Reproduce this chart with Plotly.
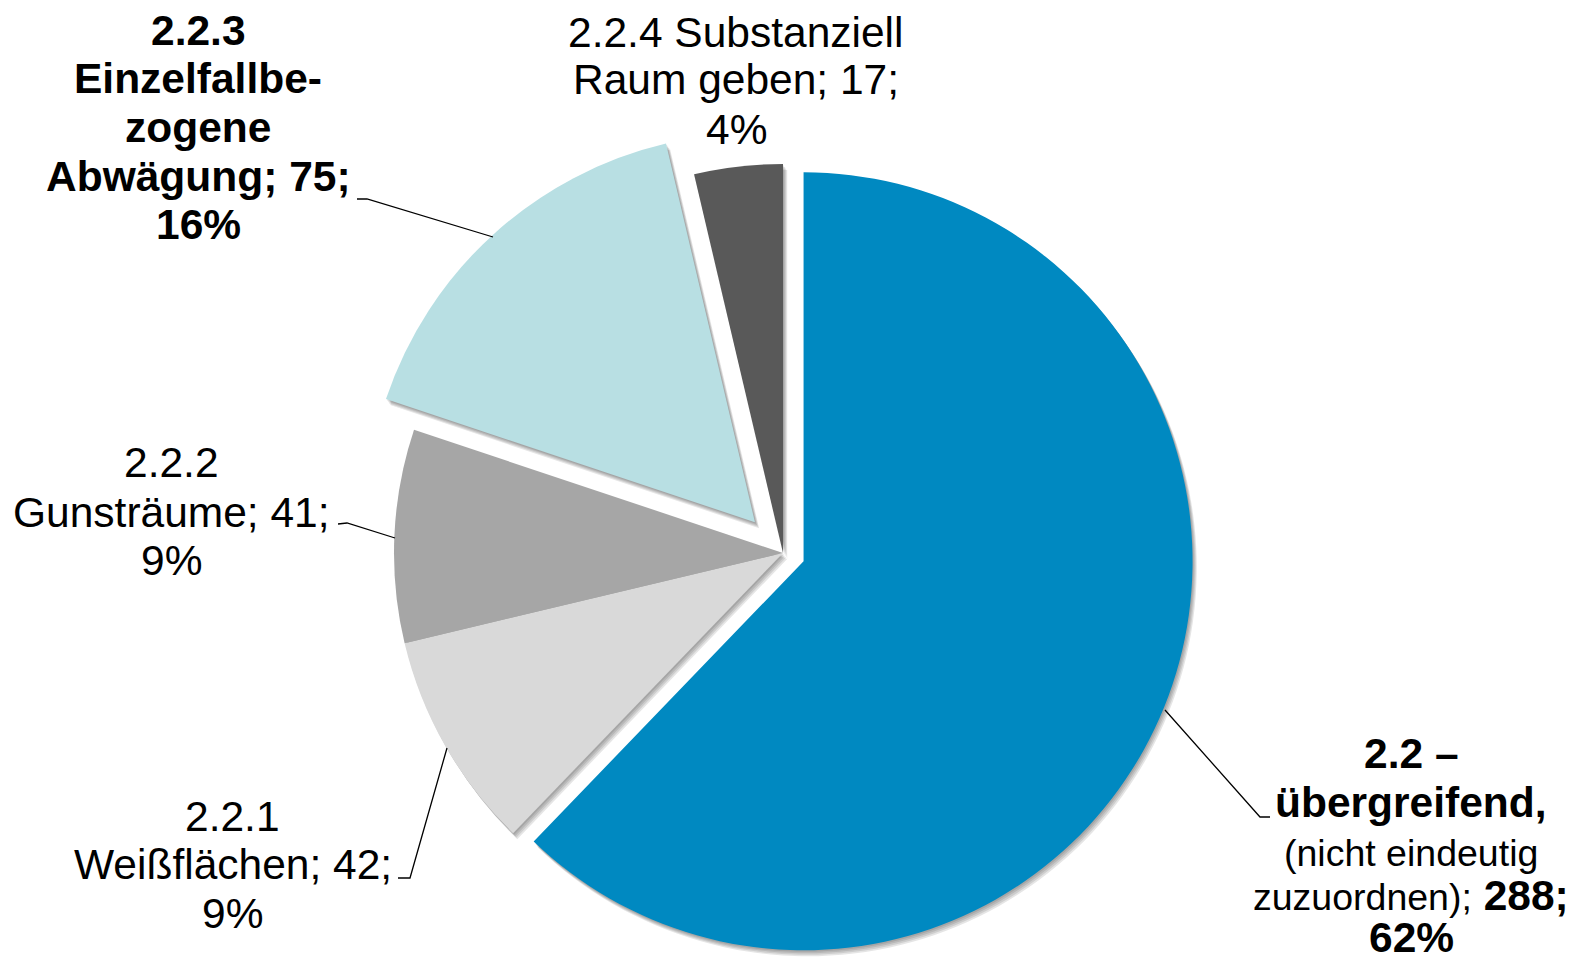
import math
import plotly.graph_objects as go

# data
categories = [
    "2.2 – übergreifend (nicht eindeutig zuzuordnen)",
    "2.2.1 Weißflächen",
    "2.2.2 Gunsträume",
    "2.2.3 Einzelfallbezogene Abwägung",
    "2.2.4 Substanziell Raum geben",
]
values = [288, 42, 41, 75, 17]
pulls = [0.057, 0, 0, 0.107, 0]
colors = ["#0089C1", "#D9D9D9", "#A6A6A6", "#B8DFE3", "#595959"]

# label text, one entry per line ({v} = value, {p} = percent)
label_lines = [
    ["<b>2.2 –</b>", "<b>übergreifend,</b>",
     "<span style='font-size:37.5px'>(nicht eindeutig</span>",
     "<span style='font-size:37.5px'>zuzuordnen);</span> <b>{v};</b>",
     "<b>{p}%</b>"],
    ["2.2.1", "Weißflächen; {v};", "{p}%"],
    ["2.2.2", "Gunsträume; {v};", "{p}%"],
    ["<b>2.2.3</b>", "<b>Einzelfallbe-</b>", "<b>zogene</b>",
     "<b>Abwägung; {v};</b>", "<b>{p}%</b>"],
    ["2.2.4 Substanziell", "Raum geben; {v};", "{p}%"],
]

W, H = 1571, 961
CX, CY, R = 783, 553, 389  # pie centre / radius in px

# label placement (px): x centre and line centres
label_pos = [
    (1411, [753, 802, 853, 895, 937]),
    (233, [816, 864, 913]),
    (171, [463, 512, 560]),
    (198, [31, 79, 127, 176, 224]),
    (736, [32, 80, 129]),
]
leaders = [
    [(1165, 710), (1260, 817), (1270, 817)],
    [(398, 878), (410, 878), (447, 748)],
    [(338, 524), (347, 523), (395, 538)],
    [(357, 199), (367, 199), (493, 237)],
]


def fx(x):
    return x / W


def fy(y):
    return 1 - y / H


def domain(cx, cy, r):
    return dict(x=[fx(cx - r), fx(cx + r)], y=[fy(cy + r), fy(cy - r)])


total = sum(values)
fig = go.Figure()

# offsets of exploded slices along their mid angle
offsets = []
cum = 0
for v, p in zip(values, pulls):
    theta = (cum + v / 2) / total * 2 * math.pi
    offsets.append((p * R * math.sin(theta), -p * R * math.cos(theta)))
    cum += v


def slice_trace(i, color, dx=0, dy=0):
    cols = ["rgba(0,0,0,0)"] * len(values)
    cols[i] = color
    ox, oy = offsets[i]
    return go.Pie(
        labels=categories, values=values, sort=False, direction="clockwise",
        rotation=0, textinfo="none", hoverinfo="skip",
        marker=dict(colors=cols, line=dict(width=0)),
        domain=domain(CX + ox + dx, CY + oy + dy, R),
        showlegend=False,
    )


# soft drop shadow
for k in [1.5, 3, 4.5, 6]:
    for i in range(len(values)):
        fig.add_trace(slice_trace(i, "rgba(0,0,0,0.1)", k * 0.7, k))

for i in range(len(values)):
    fig.add_trace(slice_trace(i, colors[i]))

annotations = []
for i, lines in enumerate(label_lines):
    pct = round(values[i] / total * 100)
    x, ys = label_pos[i]
    for line, y in zip(lines, ys):
        annotations.append(dict(
            text=line.format(v=values[i], p=pct), x=fx(x), y=fy(y),
            xref="paper", yref="paper", xanchor="center", yanchor="middle",
            showarrow=False,
        ))

shapes = []
for pts in leaders:
    path = "M " + " L ".join(f"{fx(x)},{fy(y)}" for x, y in pts)
    shapes.append(dict(type="path", path=path, xref="paper", yref="paper",
                       line=dict(color="black", width=1.3)))

fig.update_layout(
    width=W, height=H,
    margin=dict(l=0, r=0, t=0, b=0),
    paper_bgcolor="white", plot_bgcolor="white",
    font=dict(family="Liberation Sans, Arial, sans-serif", size=42.5, color="black"),
    annotations=annotations,
    shapes=shapes,
)

fig.write_html("out.html", config={"displayModeBar": False},
               post_script="document.body.style.margin='0px';")
